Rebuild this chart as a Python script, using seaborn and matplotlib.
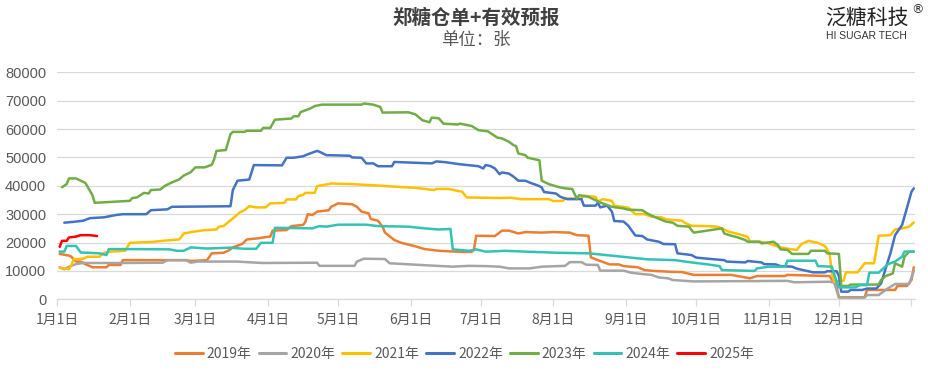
import numpy as np
import pandas as pd
import matplotlib
matplotlib.use("Agg")
import matplotlib.pyplot as plt
import seaborn as sns

# ---- Datos (día del año, desde 1 ene = 0; valores en 张) ----
YEARS = ["2019年", "2020年", "2021年", "2022年", "2023年", "2024年", "2025年"]
COLORS = ["#ED7D31", "#A5A5A5", "#FFC000", "#4472C4", "#70AD47", "#33C3B6", "#FF0000"]
MONTH_DAYS = [0, 31, 59, 90, 120, 151, 181, 212, 243, 273, 304, 334, 365]
MONTH_LABELS = ["1月1日", "2月1日", "3月1日", "4月1日", "5月1日", "6月1日",
                "7月1日", "8月1日", "9月1日", "10月1日", "11月1日", "12月1日", ""]

d2019 = [1, 5, 6, 8, 10, 12, 15, 21, 22, 27, 28, 55, 57, 64, 66, 71, 73, 75, 79, 81, 86, 88, 91, 92,
         98, 100, 105, 106, 107, 109, 111, 114, 116, 117, 120, 126, 128, 130, 133, 134, 137, 139,
         140, 144, 147, 152, 157, 163, 173, 177, 178, 179, 187, 190, 193, 197, 200, 207, 212, 219,
         222, 227, 228, 231, 236, 240, 242, 248, 251, 255, 262, 267, 272, 288, 292, 296, 299, 311,
         312, 330, 333, 334, 345, 346, 358, 359, 363, 365, 366]
v2019 = [16000, 15400, 15000, 13300, 13300, 12400, 11300, 11300, 12100, 12100, 13800, 13800, 13500,
         13800, 16200, 16400, 17100, 18300, 19500, 21100, 21500, 21800, 22100, 24200, 24400, 25800,
         26200, 27300, 30000, 29700, 30900, 31200, 31400, 32600, 33800, 33500, 32600, 30900, 30300,
         28300, 27700, 25600, 23500, 20900, 19900, 18900, 17700, 17100, 16700, 16700, 17400, 22400,
         22300, 24200, 24200, 23200, 23700, 23500, 23700, 23500, 22600, 22400, 14800, 13800, 12300,
         12300, 11700, 11300, 10300, 10000, 9700, 9600, 8600, 8600, 8000, 7400, 8200, 8200, 8600,
         8200, 4500, 700, 700, 3300, 3300, 4700, 4700, 6800, 11300]

d2020 = [1, 3, 5, 8, 11, 28, 45, 47, 55, 57, 60, 77, 83, 88, 111, 112, 127, 128, 131, 140, 142, 153,
         162, 169, 176, 183, 189, 193, 202, 207, 217, 219, 224, 226, 231, 232, 242, 245, 250, 254,
         257, 261, 263, 272, 312, 315, 330, 332, 334, 345, 346, 351, 355, 358, 364, 366]
v2020 = [11300, 10600, 11500, 12400, 12800, 12800, 12900, 13800, 13800, 12900, 13300, 13300, 13000,
         12800, 12900, 11800, 11800, 13300, 14300, 14200, 12700, 12200, 11800, 11500, 11800, 11700,
         11500, 10900, 10900, 11500, 11800, 13100, 13100, 12200, 12100, 10100, 10100, 9400, 8900,
         8600, 7700, 7400, 6800, 6300, 6500, 6000, 6200, 5900, 600, 600, 1500, 1500, 3900, 5400,
         5400, 10000]

d2021 = [1, 3, 5, 6, 7, 11, 13, 18, 20, 23, 29, 31, 40, 45, 52, 53, 54, 58, 63, 68, 69, 71, 75, 78,
         80, 82, 85, 89, 91, 97, 98, 102, 103, 105, 106, 110, 111, 116, 117, 126, 137, 146, 153, 161,
         162, 167, 173, 175, 189, 194, 198, 210, 212, 216, 217, 224, 225, 230, 231, 233, 237, 238,
         244, 247, 251, 254, 258, 260, 267, 268, 271, 277, 282, 284, 287, 291, 295, 296, 300, 304,
         309, 314, 316, 318, 321, 325, 328, 330, 331, 332, 336, 337, 342, 345, 349, 351, 356, 358,
         361, 364, 366]
v2021 = [11000, 10900, 10600, 12000, 14100, 14300, 15000, 15000, 16400, 16800, 17100, 19900, 20200,
         20600, 21100, 22000, 23200, 23800, 24400, 24600, 25600, 25800, 28500, 30600, 31400, 32800,
         32400, 32400, 33800, 34000, 35200, 35200, 36400, 36800, 37500, 37500, 39900, 40600, 40800,
         40600, 40100, 39600, 39300, 38500, 38900, 38900, 37900, 35900, 35700, 35800, 35300, 35300,
         34600, 34700, 35500, 35500, 36500, 36100, 34400, 35300, 34700, 33000, 32300, 30000, 30000,
         29100, 28900, 28200, 27700, 27000, 25900, 25800, 25600, 25000, 23800, 23000, 22000, 20300,
         20300, 19700, 18300, 17600, 17400, 19500, 20600, 19900, 18800, 16200, 9100, 6200, 6600,
         9500, 9500, 12700, 12700, 22400, 22600, 24600, 25000, 25600, 27100]

d2022 = [3, 7, 11, 14, 20, 25, 28, 38, 40, 47, 49, 74, 75, 77, 82, 84, 96, 98, 101, 105, 107, 111,
         112, 115, 125, 126, 130, 132, 135, 137, 143, 144, 160, 162, 166, 172, 180, 182, 183, 185,
         187, 189, 190, 193, 195, 197, 200, 202, 206, 207, 208, 213, 215, 218, 224, 225, 230, 231,
         232, 235, 237, 238, 242, 244, 247, 250, 252, 257, 259, 264, 265, 271, 273, 278, 285, 286,
         294, 295, 301, 302, 307, 309, 314, 316, 323, 328, 329, 333, 334, 335, 338, 339, 344, 346,
         350, 352, 354, 356, 358, 361, 363, 365, 366]
v2022 = [27000, 27300, 27700, 28600, 28900, 29700, 30000, 30000, 31400, 31700, 32600, 32800, 38500,
         41800, 42200, 47300, 47200, 49900, 49900, 50400, 51100, 52300, 52000, 50800, 50600, 50000,
         49900, 47900, 47900, 46900, 46900, 48400, 47900, 48600, 48300, 47600, 46900, 46100, 47300,
         47000, 46100, 44100, 44700, 44300, 43200, 41800, 41800, 41100, 39900, 39400, 37800, 37300,
         36100, 35300, 35300, 33000, 33000, 34000, 32400, 33000, 30900, 27600, 27400, 25900, 22500,
         22300, 21100, 20300, 19500, 19400, 16200, 15600, 14700, 14300, 13800, 13300, 13000, 13500,
         13000, 12400, 12300, 11700, 11500, 10800, 9500, 9500, 9900, 9900, 8200, 2700, 2700, 3300,
         3300, 3800, 3800, 5600, 10900, 16200, 22600, 26200, 32000, 37900, 39100]

d2023 = [2, 4, 5, 8, 10, 12, 15, 16, 31, 32, 34, 37, 39, 40, 44, 46, 49, 52, 54, 57, 59, 63, 66, 67,
         68, 72, 74, 75, 80, 81, 87, 88, 91, 93, 100, 101, 103, 104, 108, 110, 113, 130, 131, 135,
         138, 139, 150, 153, 156, 159, 160, 163, 165, 171, 172, 177, 180, 184, 188, 190, 193, 195,
         196, 197, 200, 201, 206, 207, 210, 214, 217, 220, 222, 223, 227, 232, 237, 242, 244, 250,
         252, 255, 260, 263, 265, 270, 271, 272, 276, 284, 285, 288, 290, 294, 295, 300, 301, 306,
         308, 309, 312, 314, 321, 322, 328, 329, 334, 335, 338, 339, 351, 352, 354, 357, 358, 361,
         362, 364, 366]
v2023 = [39500, 40600, 42600, 42600, 41800, 41000, 36700, 34000, 34700, 35700, 35900, 37500, 37300,
         38500, 38700, 40000, 41200, 42200, 43600, 44800, 46500, 46500, 47400, 49300, 52300, 52600,
         58200, 59000, 59000, 59400, 59400, 60400, 60400, 63300, 63700, 64500, 64500, 66000, 67200,
         68100, 68600, 68600, 69000, 68600, 67800, 65800, 65900, 65200, 63100, 62400, 64000, 63800,
         61900, 61600, 61900, 61100, 59600, 59200, 57000, 56700, 55500, 54300, 54000, 51400, 50800,
         49900, 49000, 41800, 40600, 39600, 39100, 38900, 35500, 36700, 36100, 34100, 32600, 32000,
         31600, 31400, 30300, 29100, 27400, 27000, 25900, 25600, 24400, 23500, 24000, 25000, 23200,
         22400, 22000, 20900, 20300, 20300, 19700, 20300, 19100, 17600, 17400, 16000, 16000, 17100,
         17100, 16200, 16000, 4700, 4700, 5200, 5200, 6800, 8200, 9100, 12700, 11500, 15000, 16800,
         16800]

d2024 = [1, 3, 4, 8, 10, 13, 18, 21, 22, 33, 48, 51, 54, 57, 64, 74, 80, 85, 87, 92, 93, 109, 112,
         115, 120, 132, 137, 150, 157, 163, 168, 169, 176, 179, 183, 189, 191, 200, 214, 227, 232,
         239, 245, 252, 264, 271, 277, 283, 284, 298, 299, 304, 311, 312, 324, 325, 331, 333, 334,
         341, 343, 346, 347, 351, 353, 355, 358, 361, 362, 366]
v2024 = [16800, 16800, 18800, 18800, 16500, 16400, 16200, 15600, 17700, 17700, 17600, 17100, 17100,
         18300, 17900, 18200, 17800, 17800, 19900, 19900, 25200, 25000, 25800, 25600, 26300, 26300,
         25800, 25600, 25000, 24600, 24800, 17600, 17100, 17600, 16800, 17000, 17100, 16800, 16400,
         16200, 15800, 15200, 14700, 14100, 13800, 13000, 12400, 11700, 10300, 10000, 10900, 11500,
         11500, 13600, 13600, 11700, 11500, 6200, 4200, 4200, 5000, 5000, 9400, 9400, 10900, 12400,
         13300, 15000, 16800, 16800]

d2025 = [1, 2, 4, 5, 8, 10, 14, 17]
v2025 = [18500, 20600, 20600, 21800, 22100, 22600, 22600, 22300]

dias = [d2019, d2020, d2021, d2022, d2023, d2024, d2025]
valores = [v2019, v2020, v2021, v2022, v2023, v2024, v2025]
df = pd.concat([pd.DataFrame({"dia": d, "valor": v, "anio": y})
                for d, v, y in zip(dias, valores, YEARS)], ignore_index=True)

# ---- Figura ----
sns.set_theme(style="white")
plt.rcParams["font.family"] = ["Noto Sans CJK SC", "DejaVu Sans"]

fig = plt.figure(figsize=(9.29, 3.74), dpi=100)
ax = fig.add_axes([0.0617, 0.1997, 0.9232, 0.607])

sns.lineplot(data=df, x="dia", y="valor", hue="anio", hue_order=YEARS,
             palette=dict(zip(YEARS, COLORS)), estimator=None, lw=1.8, ax=ax)

ax.set_xlim(0, 366.5)
ax.set_ylim(0, 80000)
ax.set_xticks(MONTH_DAYS)
ax.set_xticklabels(MONTH_LABELS, fontsize=10, color="#595959")
ax.set_yticks(range(0, 80001, 10000))
ax.set_yticklabels([str(v) for v in range(0, 80001, 10000)], fontsize=10.5,
                   color="#595959", family="Liberation Sans")
ax.set_xlabel("")
ax.set_ylabel("")
ax.yaxis.grid(True, color="#D9D9D9", lw=0.9)
ax.xaxis.grid(False)
for s in ["left", "top", "right"]:
    ax.spines[s].set_visible(False)
ax.spines["bottom"].set_color("#D9D9D9")
ax.spines["bottom"].set_linewidth(0.9)
ax.tick_params(axis="x", length=5, width=0.9, color="#D9D9D9", pad=5, bottom=True)
ax.tick_params(axis="y", length=0, pad=8)

handles, labels = ax.get_legend_handles_labels()
ax.get_legend().remove()
leg = fig.legend(handles, labels, loc="center", bbox_to_anchor=(0.5, 1 - 354 / 374),
                 ncol=7, frameon=False, fontsize=10, handlelength=2.0,
                 handletextpad=0.3, columnspacing=0.5, labelcolor="#595959")
for h in leg.legend_handles:
    h.set_linewidth(2.2)

# Títulos
fig.text(0.512, 1 - 18 / 374, "郑糖仓单+有效预报", ha="center", va="center",
         fontsize=14, fontweight="bold", color="#404040")
fig.text(0.512, 1 - 40 / 374, "单位：张", ha="center", va="center",
         fontsize=12.5, color="#595959")

# Logo
fig.text(867 / 929, 1 - 18 / 374, "泛糖科技", ha="center", va="center",
         fontsize=15, color="#222222")
fig.text(918 / 929, 1 - 10 / 374, "®", ha="center", va="center", fontsize=9,
         color="#333333", family="DejaVu Sans")
fig.text(866 / 929, 1 - 36 / 374, "HI SUGAR TECH", ha="center", va="center",
         fontsize=7.5, color="#333333", family="Liberation Sans")

fig.savefig("out.png", dpi=100)
